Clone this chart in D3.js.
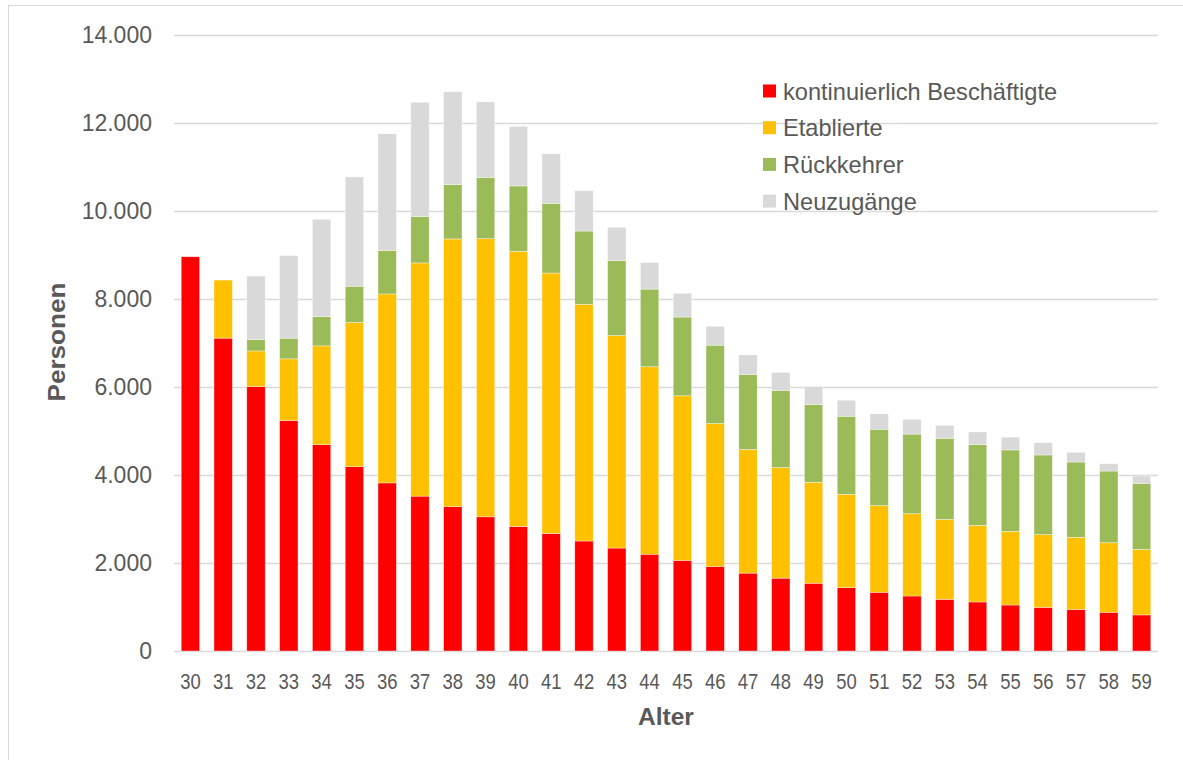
<!DOCTYPE html>
<html lang="de">
<head>
<meta charset="utf-8">
<script src="https://cdn.jsdelivr.net/npm/d3@7"></script>
<style>
  html, body { margin: 0; padding: 0; background: #fff; }
  svg { display: block; font-family: "Liberation Sans", Arial, sans-serif; }
</style>
</head>
<body>
<svg id="chart" width="1183" height="760"></svg>
<script>
// Altersjahre 30–59
const ages = [30,31,32,33,34,35,36,37,38,39,40,41,42,43,44,45,46,47,48,49,50,51,52,53,54,55,56,57,58,59];

// Personen je Gruppe und Alter
const kontinuierlich = [8960,7110,6010,5240,4690,4190,3820,3520,3280,3050,2830,2670,2500,2340,2200,2060,1920,1770,1655,1540,1440,1335,1250,1175,1115,1045,990,945,880,820];
const etablierte     = [0,1320,810,1400,2245,3275,4295,5300,6085,6320,6255,5920,5380,4830,4260,3740,3250,2810,2515,2295,2120,1970,1870,1815,1740,1675,1655,1640,1580,1490];
const rueckkehrer    = [0,0,255,470,665,825,990,1055,1235,1390,1485,1585,1665,1705,1765,1790,1780,1705,1755,1765,1775,1735,1810,1845,1835,1850,1810,1710,1630,1500];
const neuzugaenge    = [0,0,1445,1875,2210,2485,2650,2595,2110,1720,1355,1125,915,755,605,540,430,445,405,410,365,350,335,290,290,290,280,220,165,165];

const seriesNames = ["kontinuierlich Beschäftigte", "Etablierte", "Rückkehrer", "Neuzugänge"];
const seriesColors = ["#ff0000", "#ffc000", "#9bbb59", "#d9d9d9"];
const yTicks = [0,2000,4000,6000,8000,10000,12000,14000];

const rows = ages.map((a, i) => ({
  age: a,
  [seriesNames[0]]: kontinuierlich[i],
  [seriesNames[1]]: etablierte[i],
  [seriesNames[2]]: rueckkehrer[i],
  [seriesNames[3]]: neuzugaenge[i]
}));

const de = d3.formatLocale({ decimal: ",", thousands: ".", grouping: [3], currency: ["", " €"] });
const fmt = de.format(",");

const svg = d3.select("#chart");
const textColor = "#595959";

// Rahmen des Diagrammbereichs
svg.append("rect")
  .attr("x", 8.5).attr("y", 5.5)
  .attr("width", 1200).attr("height", 800)
  .attr("fill", "none").attr("stroke", "#d9d9d9").attr("stroke-width", 1);

const x = d3.scaleBand()
  .domain(ages)
  .range([174, 1158])
  .paddingInner(0.44)
  .paddingOuter(0.22);

const y = d3.scaleLinear()
  .domain([0, 14000])
  .range([651, 35]);

// Gitterlinien
const grid = svg.append("g")
  .attr("transform", "translate(174,0)")
  .call(d3.axisLeft(y).tickValues(yTicks).tickSize(-(1158 - 174)).tickFormat(""));
grid.select(".domain").remove();
grid.selectAll("line").attr("stroke", "#d9d9d9").attr("stroke-width", 1.4);

// Y-Achsenbeschriftung
const yAxis = svg.append("g")
  .attr("transform", "translate(174,0)")
  .call(d3.axisLeft(y).tickValues(yTicks).tickSize(0).tickPadding(22).tickFormat(fmt));
yAxis.select(".domain").remove();
yAxis.selectAll("text")
  .attr("fill", textColor)
  .style("font-size", "23px")
  .style("font-family", "'Liberation Sans', Arial, sans-serif");

// Gestapelte Säulen
const stack = d3.stack().keys(seriesNames);
const layers = stack(rows);

svg.append("g")
  .selectAll("g")
  .data(layers)
  .join("g")
  .attr("fill", (d, i) => seriesColors[i])
  .selectAll("rect")
  .data(d => d.filter(s => s[1] - s[0] > 0))
  .join("rect")
  .attr("x", d => x(d.data.age))
  .attr("width", x.bandwidth())
  .attr("y", d => y(d[1]))
  .attr("height", d => y(d[0]) - y(d[1]))
  .attr("stroke", "#ffffff")
  .attr("stroke-opacity", 0.6)
  .attr("stroke-width", 0.6);

// X-Achse
const xAxis = svg.append("g")
  .attr("transform", "translate(0,651)")
  .call(d3.axisBottom(x).tickSize(0).tickPadding(0));
xAxis.select(".domain").remove();
xAxis.selectAll(".tick text")
  .attr("fill", textColor)
  .attr("dy", null)
  .attr("y", 0)
  .style("font-size", "22px")
  .style("font-family", "'Liberation Sans', Arial, sans-serif")
  .attr("transform", "translate(0,38) scale(0.84,1)");

// Achsentitel
svg.append("text")
  .attr("x", 666).attr("y", 725)
  .attr("text-anchor", "middle")
  .attr("fill", textColor)
  .style("font-size", "24.5px")
  .style("font-weight", "bold")
  .text("Alter");

svg.append("text")
  .attr("transform", "translate(65,342) rotate(-90)")
  .attr("text-anchor", "middle")
  .attr("fill", textColor)
  .style("font-size", "24px")
  .style("font-weight", "bold")
  .attr("textLength", 119)
  .attr("lengthAdjust", "spacingAndGlyphs")
  .text("Personen");

// Legende
const legend = svg.append("g");
const legendRows = legend.selectAll("g")
  .data(seriesNames)
  .join("g")
  .attr("transform", (d, i) => `translate(763,${91 + i * 36.7})`);
legendRows.append("rect")
  .attr("x", 0).attr("y", -6.5)
  .attr("width", 13).attr("height", 13)
  .attr("fill", (d, i) => seriesColors[i]);
legendRows.append("text")
  .attr("x", 20).attr("y", 0)
  .attr("dy", "0.36em")
  .attr("fill", textColor)
  .style("font-size", "23.6px")
  .text(d => d);
</script>
</body>
</html>
